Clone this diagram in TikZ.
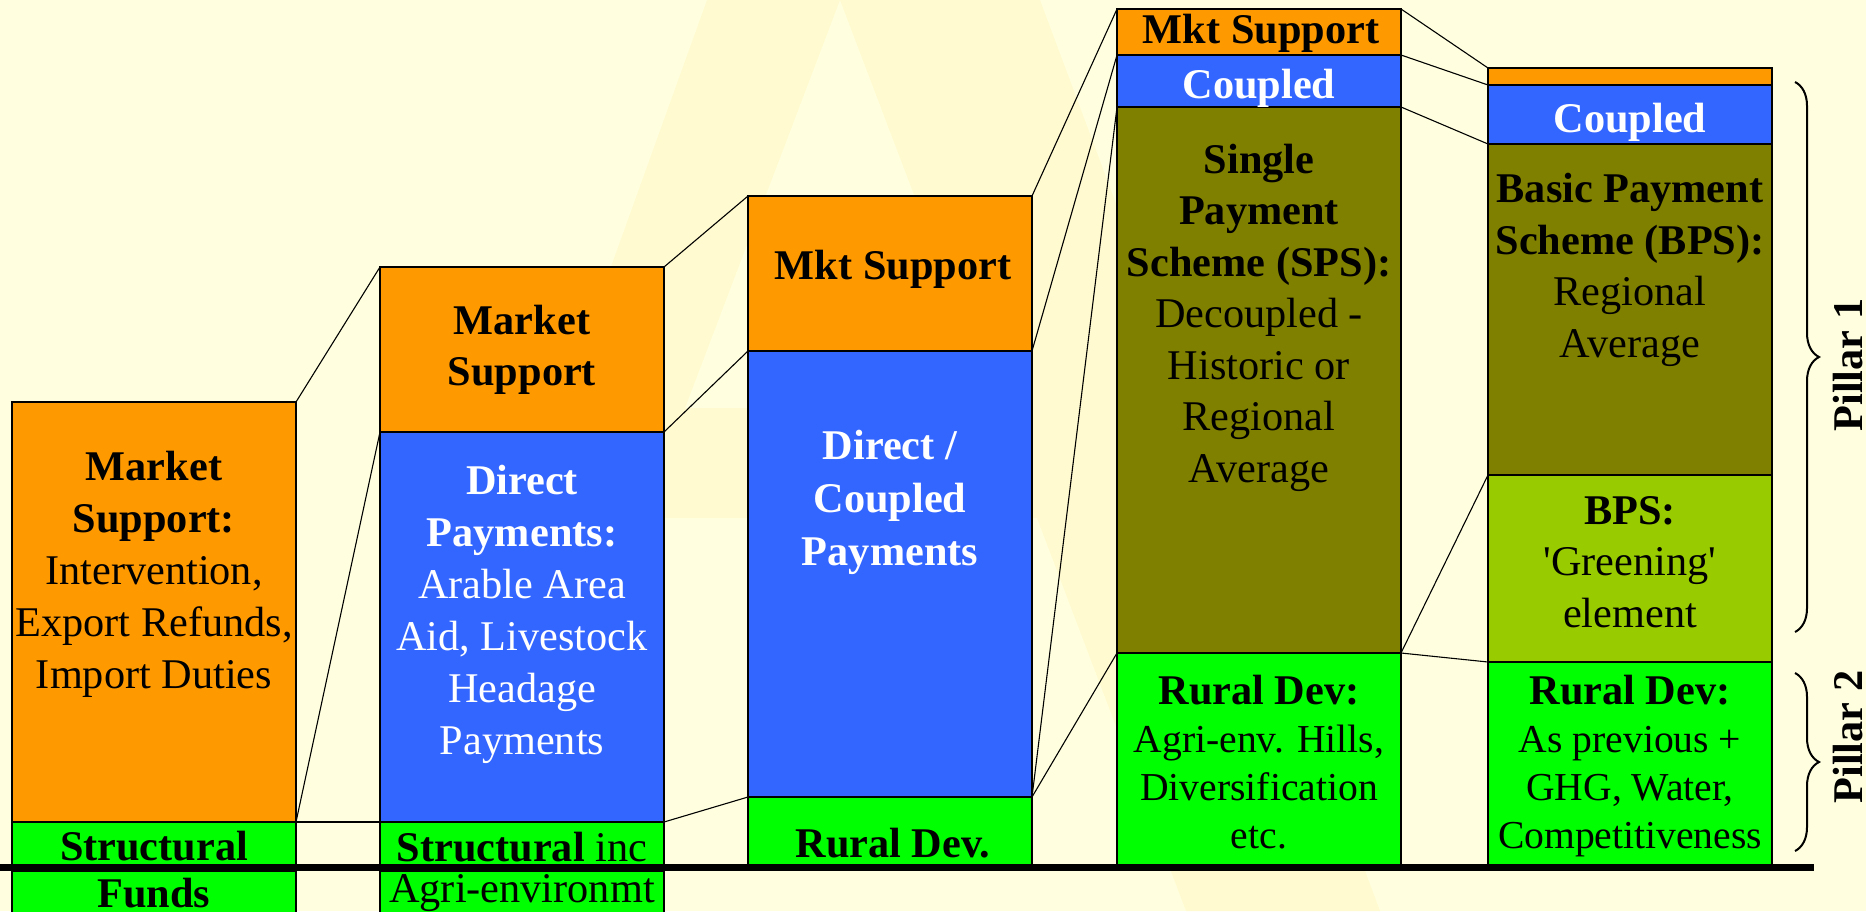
\documentclass[tikz,border=0pt]{standalone}
\usepackage{fontspec}
\setmainfont{Liberation Serif}
\usetikzlibrary{fit,decorations.pathreplacing}

\definecolor{bgyellow}{RGB}{255,255,224}
\definecolor{wmyellow}{RGB}{255,250,207}
\definecolor{mktorange}{RGB}{255,153,0}
\definecolor{payblue}{RGB}{51,102,255}
\definecolor{spsolive}{RGB}{128,128,0}
\definecolor{greenbps}{RGB}{153,204,0}
\definecolor{ruralgreen}{RGB}{0,255,0}

% font sizes: main labels and the slightly smaller Rural Dev body text
\newcommand\mainsize[1]{\fontsize{21.15pt}{#1}\selectfont}
\newcommand\smallbody{\fontsize{19.8pt}{24pt}\selectfont}
\newcommand\headline[1]{{\fontsize{21.15pt}{24pt}\selectfont\bfseries #1}}

\begin{document}
\begin{tikzpicture}[x=0.5pt,y=-0.5pt,
  segbox/.style={draw=black,line width=1.4pt,inner sep=0pt,outer sep=0pt},
  link/.style={draw=black,line width=0.55pt},
  % multi-line labels are placed by the baseline of their last line
  txt/.style={anchor=base,align=center,inner sep=0pt,outer sep=0pt},
  pillar/.style={rotate=90,anchor=base,inner sep=0pt,font=\bfseries\mainsize{24pt}},
  bracestyle/.style={draw=black,line width=1pt,decorate,decoration={brace,amplitude=12pt}}]

% canvas and background
\useasboundingbox (0,0) rectangle (1866,911);
\clip (0,0) rectangle (1866,911);
\fill[bgyellow] (0,0) rectangle (1866,911);

% faint letter watermark behind the chart
\fill[wmyellow,even odd rule]
  (707,0) -- (1040,0) -- (1380,911) -- (1186,911) -- (1037,518) -- (643,518)
  -- (494,911) -- (379,911) -- cycle
  (840,0) -- (995,408) -- (685,408) -- cycle;

% ---- column 1 ----
\node[segbox,fill=mktorange,fit={(12,402) (296,822)}] (a1) {};
\node[segbox,fill=ruralgreen,fit={(12,822) (296,866)}] (a2) {};
\node[segbox,fill=ruralgreen,fit={(12,871) (296,930)}] (a3) {};

% ---- column 2 ----
\node[segbox,fill=mktorange,fit={(380,267) (664,432)}] (b1) {};
\node[segbox,fill=payblue,fit={(380,432) (664,822)}] (b2) {};
\node[segbox,fill=ruralgreen,fit={(380,822) (664,866)}] (b3) {};
\node[segbox,fill=ruralgreen,fit={(380,871) (664,930)}] (b4) {};

% ---- column 3 ----
\node[segbox,fill=mktorange,fit={(748,196) (1032,351)}] (c1) {};
\node[segbox,fill=payblue,fit={(748,351) (1032,797)}] (c2) {};
\node[segbox,fill=ruralgreen,fit={(748,797) (1032,866)}] (c3) {};

% ---- column 4 ----
\node[segbox,fill=mktorange,fit={(1117,9) (1401,55)}] (d1) {};
\node[segbox,fill=payblue,fit={(1117,55) (1401,107)}] (d2) {};
\node[segbox,fill=spsolive,fit={(1117,107) (1401,653)}] (d3) {};
\node[segbox,fill=ruralgreen,fit={(1117,653) (1401,866)}] (d4) {};

% ---- column 5 ----
\node[segbox,fill=mktorange,fit={(1488,68) (1772,85)}] (e1) {};
\node[segbox,fill=payblue,fit={(1488,85) (1772,144)}] (e2) {};
\node[segbox,fill=spsolive,fit={(1488,144) (1772,475)}] (e3) {};
\node[segbox,fill=greenbps,fit={(1488,475) (1772,662)}] (e4) {};
\node[segbox,fill=ruralgreen,fit={(1488,662) (1772,866)}] (e5) {};

% ground line
\coordinate (gl) at (0,867);
\coordinate (gr) at (1814,867);
\draw[line width=3.5pt] (gl) -- (gr);

% ---- connectors between columns ----
\draw[link] (a1.north east) -- (b1.north west);
\draw[link] (a1.south east) -- (b2.north west);
\draw[link] (a1.south east) -- (b3.north west);

\draw[link] (b1.north east) -- (c1.north west);
\draw[link] (b2.north east) -- (c2.north west);
\draw[link] (b2.south east) -- (c3.north west);

\draw[link] (c1.north east) -- (d1.north west);
\draw[link] (c2.north east) -- (d2.north west);
\draw[link] (c2.south east) -- (d3.north west);
\draw[link] (c2.south east) -- (d4.north west);

\draw[link] (d1.north east) -- (e1.north west);
\draw[link] (d2.north east) -- (e2.north west);
\draw[link] (d3.north east) -- (e3.north west);
\draw[link] (d3.south east) -- (e4.north west);
\draw[link] (d3.south east) -- (e5.north west);

% ---- labels, column 1 ----
\node[txt,font=\mainsize{26pt}] (ta1) at (154,688)
  {\textbf{Market}\\\textbf{Support:}\\Intervention,\\Export Refunds,\\Import Duties};
\node[txt,font=\mainsize{26pt}\bfseries] (ta2) at (154,860) {Structural};
\node[txt,font=\mainsize{26pt}\bfseries] (ta3) at (154,907) {Funds};

% ---- labels, column 2 ----
\node[txt,font=\mainsize{25.5pt}\bfseries] (tb1) at (522,385) {Market\\Support};
\node[txt,font=\mainsize{26pt},text=white] (tb2) at (522,754)
  {\textbf{Direct}\\\textbf{Payments:}\\Arable Area\\Aid, Livestock\\Headage\\Payments};
\node[txt,font=\mainsize{26pt}] (tb3) at (522,861) {\textbf{Structural} inc};
\node[txt,font=\mainsize{26pt}] (tb4) at (522,902) {Agri-environmt};

% ---- labels, column 3 ----
\node[txt,font=\mainsize{26pt}\bfseries] (tc1) at (893,279) {Mkt Support};
\node[txt,font=\mainsize{26.5pt}\bfseries,text=white] (tc2) at (890,565)
  {Direct /\\Coupled\\Payments};
\node[txt,font=\mainsize{26pt}\bfseries] (tc3) at (893,857) {Rural Dev.};

% ---- labels, column 4 ----
\node[txt,font=\mainsize{26pt}\bfseries] (td1) at (1261,43) {Mkt Support};
\node[txt,font=\mainsize{26pt}\bfseries,text=white] (td2) at (1259,98) {Coupled};
\node[txt,font=\mainsize{25.75pt}] (td3) at (1259,482)
  {\textbf{Single}\\\textbf{Payment}\\\textbf{Scheme (SPS):}\\Decoupled -\\Historic or\\Regional\\Average};
\node[txt,font=\smallbody] (td4) at (1259,848)
  {\headline{Rural Dev:}\\Agri-env. Hills,\\Diversification\\etc.};

% ---- labels, column 5 ----
\node[txt,font=\mainsize{26pt}\bfseries,text=white] (te1) at (1630,132) {Coupled};
\node[txt,font=\mainsize{25.75pt}] (te2) at (1630,357)
  {\textbf{Basic Payment}\\\textbf{Scheme (BPS):}\\Regional\\Average};
\node[txt,font=\mainsize{25.75pt}] (te3) at (1630,627)
  {\textbf{BPS:}\\\textquotesingle Greening\textquotesingle\\element};
\node[txt,font=\smallbody] (te4) at (1630,848)
  {\headline{Rural Dev:}\\As previous +\\GHG, Water,\\Competitiveness};

% ---- pillar braces and captions ----
\coordinate (p1top) at (1795,82);
\coordinate (p1bot) at (1795,632);
\coordinate (p2top) at (1795,673);
\coordinate (p2bot) at (1795,851);
\draw[bracestyle] (p1top) -- (p1bot);
\draw[bracestyle] (p2top) -- (p2bot);
\node[pillar] (pl1) at (1862,365) {Pillar 1};
\node[pillar] (pl2) at (1862,737) {Pillar 2};

\end{tikzpicture}
\end{document}
